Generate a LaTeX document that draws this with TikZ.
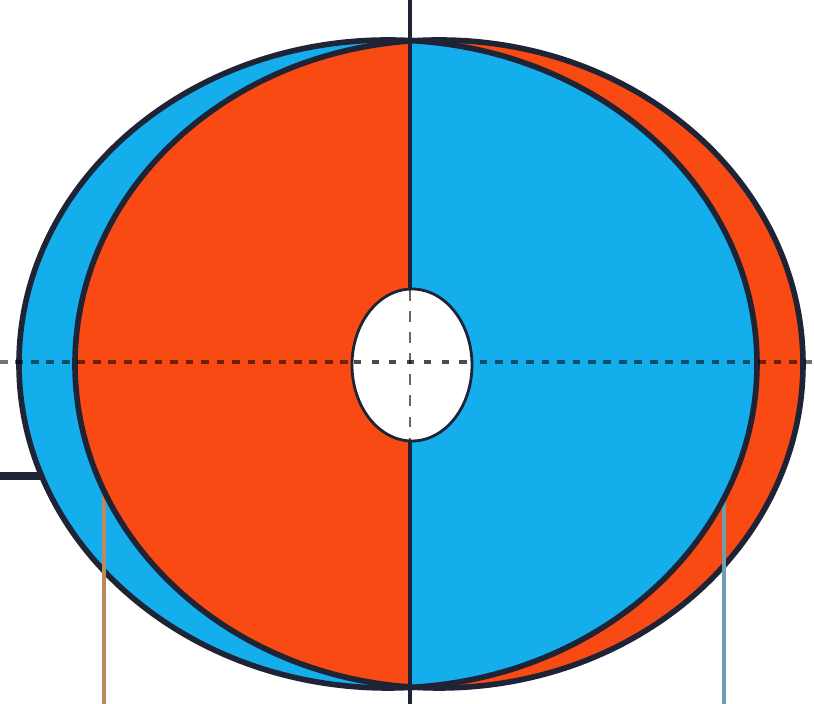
\documentclass[tikz,border=0pt]{standalone}
\usepackage{tikz}
\usepackage[dvipsnames,svgnames]{xcolor}
\definecolor{coreRed}{HTML}{F84A12}
\definecolor{coreBlue}{HTML}{14AEEC}
\definecolor{rimDark}{HTML}{1E2436}
\definecolor{leadTan}{HTML}{B98A62}
\definecolor{leadTeal}{HTML}{6F9FAE}

\begin{document}
\begin{tikzpicture}[x=0.01cm,y=-0.01cm]
    \useasboundingbox (0,0) rectangle (814,704);
    \fill[white] (0,0) rectangle (814,704);

    % Titik pusat kedua elips dan lubang tengah
    \coordinate (pusatBiru) at (388,364);
    \coordinate (pusatMerah) at (439,364);
    \coordinate (pusatLubang) at (412,365);

    % Potongan kawat di kiri
    \draw[rimDark,line width=2.4pt] (0,476)--(40,476);

    % Elips biru (belakang kiri)
    \filldraw[fill=coreBlue,draw=rimDark,line width=1.6pt] (pusatBiru) ellipse (369 and 324);

    % Kawat keluaran kiri, di atas elips biru
    \draw[leadTan,line width=1.3pt] (104,480)--(104,704);

    % Elips merah
    \filldraw[fill=coreRed,draw=rimDark,line width=1.6pt] (pusatMerah) ellipse (364 and 324);

    % Kawat keluaran kanan, di atas elips merah
    \draw[leadTeal,line width=1.1pt] (724,480)--(724,704);

    % Separuh kanan: elips biru di depan elips merah
    \begin{scope}
        \clip (410,0) rectangle (814,704);
        \filldraw[fill=coreBlue,draw=rimDark,line width=1.6pt] (pusatBiru) ellipse (369 and 324);
    \end{scope}

    % Sumbu tegak dan sumbu mendatar putus-putus
    \draw[rimDark,line width=1pt] (410,0)--(410,704);
    \draw[black,opacity=.55,line width=1.4pt,dash pattern=on 2.2pt off 2.2pt] (0,362)--(814,362);

    % Lubang putih di tengah dengan sumbu putus-putus
    \filldraw[fill=white,draw=rimDark,line width=.8pt] (pusatLubang) ellipse (60 and 76);
    \draw[black,opacity=.7,line width=1.2pt,dash pattern=on 2pt off 3pt] (354,362)--(470,362);
    \draw[black,opacity=.6,line width=.8pt,dash pattern=on 3pt off 3pt] (410,290)--(410,440);

\end{tikzpicture}
\end{document}
